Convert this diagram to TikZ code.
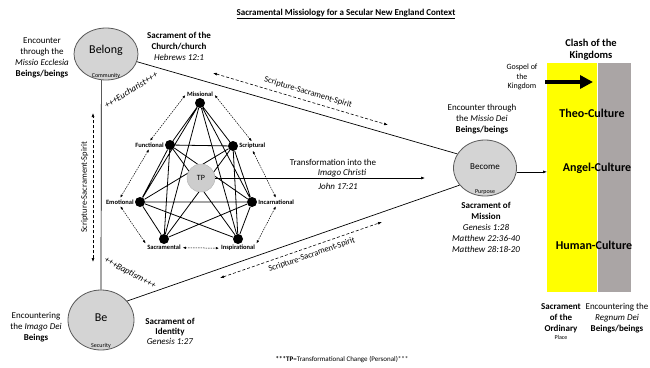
\documentclass[tikz,border=0pt]{standalone}
\usepackage{fontspec}
\setmainfont{Carlito}
\usetikzlibrary{positioning}
\usetikzlibrary{shapes.geometric}
\usetikzlibrary{arrows.meta}

\definecolor{circfill}{RGB}{212,212,212}
\definecolor{circline}{RGB}{90,90,90}
\definecolor{tpgray}{RGB}{205,205,205}
\definecolor{kingyellow}{RGB}{255,255,0}
\definecolor{kinggray}{RGB}{170,165,165}

\tikzset{
  sphere/.style={ellipse,draw=circline,fill=circfill,line width=0.8pt,inner sep=0pt},
  blurb/.style={align=center,inner sep=1pt,font=\fontsize{9}{11}\selectfont},
  subword/.style={inner sep=1pt,font=\fontsize{6}{7}\selectfont},
  vertex/.style={circle,fill=black,minimum size=10pt,inner sep=0pt},
  hlbl/.style={inner sep=1pt,font=\bfseries\fontsize{6.5}{7}\selectfont},
  ringarrow/.style={line width=0.5pt,dash pattern=on 1.5pt off 1pt,{Latex[length=3pt,width=2.5pt]}-{Latex[length=3pt,width=2.5pt]},shorten <=1pt,shorten >=1pt},
  sss/.style={line width=0.6pt,dash pattern=on 3pt off 2pt,{Latex[length=4pt,width=3pt]}-{Latex[length=4pt,width=3pt]}},
}

\begin{document}
\begin{tikzpicture}[x=1pt,y=-1pt]
\useasboundingbox (0,0) rectangle (650,367);

\node[font=\bfseries\fontsize{9}{11}\selectfont] (title) at (346,14) {\underline{Sacramental Missiology for a Secular New England Context}};

\node[sphere,minimum width=64pt,minimum height=52pt] (belong) at (106,54) {};
\node[sphere,minimum width=63pt,minimum height=56pt] (become) at (485,168) {};
\node[sphere,minimum width=66pt,minimum height=60pt] (be) at (101,320) {};

\node[font=\fontsize{12}{14}\selectfont] (belongword) at (106,50) {Belong};
\node[subword,above=1pt of belong.south] (community) {Community};
\node[font=\fontsize{9}{11}\selectfont] (becomeword) at (485,167) {Become};
\node[subword,above=1pt of become.south] (purpose) {Purpose};
\node[font=\fontsize{12}{14}\selectfont] (beword) at (101,318) {Be};
\node[subword,above=1pt of be.south] (security) {Security};

\draw[line width=0.7pt] (belong.-14) -- (become.153);
\draw[line width=0.7pt] (be.36) -- (become.214);
\draw[line width=0.7pt] (belong.260) -- (be.north);

\node[blurb] (belongleft) at (42,58) {Encounter\\through the\\\textit{Missio Ecclesia}\\\textbf{Beings/beings}};
\node[blurb] (belongright) at (179,46) {\textbf{Sacrament of the}\\\textbf{Church/church}\\\textit{Hebrews 12:1}};
\node[blurb] (beleft) at (36,327) {Encountering\\the \textit{Imago Dei}\\\textbf{Beings}};
\node[blurb,font=\fontsize{9}{10}\selectfont] (beright) at (170,331) {\textbf{Sacrament of}\\\textbf{Identity}\\\textit{Genesis 1:27}};
\node[blurb] (becometop) at (482,119) {Encounter through\\the \textit{Missio Dei}\\\textbf{Beings/beings}};
\node[blurb] (becomebottom) at (486,227) {\textbf{Sacrament of}\\\textbf{Mission}\\\textit{Genesis 1:28}\\\textit{Matthew 22:36-40}\\\textit{Matthew 28:18-20}};

\node[blurb,rotate=32,font=\itshape\fontsize{9}{11}\selectfont] (eucharist) at (131,90) {+++Eucharist+++};
\node[blurb,rotate=-28,font=\itshape\fontsize{9}{11}\selectfont] (baptism) at (130,273) {+++Baptism+++};

\coordinate (sstopA) at (213,73);
\coordinate (sstopB) at (388,125);
\draw[sss] (sstopA) -- node[sloped,above=1pt,pos=0.53,font=\fontsize{8.5}{10}\selectfont] (sstoplbl) {Scripture-Sacrament-Spirit} (sstopB);
\coordinate (ssbotA) at (220,278);
\coordinate (ssbotB) at (382,222);
\draw[sss] (ssbotA) -- node[sloped,below=1pt,pos=0.55,font=\fontsize{8.5}{10}\selectfont] (ssbotlbl) {Scripture-Sacrament-Spirit} (ssbotB);
\coordinate (ssleftA) at (93,262);
\coordinate (ssleftB) at (93,113);
\draw[sss] (ssleftA) -- node[sloped,above=1pt,font=\fontsize{8.5}{10}\selectfont] (sslftlbl) {Scripture-Sacrament-Spirit} (ssleftB);

\node[vertex] (mis) at (200,103) {};
\node[vertex] (fun) at (170,145) {};
\node[vertex] (scr) at (233,146) {};
\node[vertex] (emo) at (140,202) {};
\node[vertex] (inc) at (252,202) {};
\node[vertex] (sac) at (164,239) {};
\node[vertex] (ins) at (238,239) {};

\node[hlbl,above=0pt of mis] (mislbl) {Missional};
\node[hlbl,left=0pt of fun] (funlbl) {Functional};
\node[hlbl,right=0pt of scr] (scrlbl) {Scriptural};
\node[hlbl,left=0pt of emo] (emolbl) {Emotional};
\node[hlbl,right=0pt of inc] (inclbl) {Incarnational};
\node[hlbl,below=0pt of sac] (saclbl) {Sacramental};
\node[hlbl,below=0pt of ins] (inslbl) {Inspirational};

\draw[line width=0.8pt] (mis) -- (fun) (mis) -- (scr) (mis) -- (emo) (mis) -- (inc) (mis) -- (sac) (mis) -- (ins)
  (fun) -- (scr) (fun) -- (emo) (fun) -- (inc) (fun) -- (sac) (fun) -- (ins)
  (scr) -- (emo) (scr) -- (inc) (scr) -- (sac) (scr) -- (ins)
  (emo) -- (inc) (emo) -- (sac) (emo) -- (ins)
  (inc) -- (sac) (inc) -- (ins);

\draw[ringarrow] (mislbl.west) -- (funlbl.north);
\draw[ringarrow] (mislbl.east) -- (scrlbl.north);
\draw[ringarrow] (funlbl.south) -- (emolbl.north);
\draw[ringarrow] (scrlbl.south) -- (inclbl.north);
\draw[ringarrow] (emolbl.south) -- (saclbl.north west);
\draw[ringarrow] (inclbl.south) -- (inslbl.north east);
\draw[ringarrow] (saclbl.east) -- (inslbl.west);

\node[circle,fill=tpgray,draw=tpgray!85!black,line width=0.4pt,minimum size=28pt,inner sep=0pt,font=\fontsize{8}{9}\selectfont] (tp) at (201,178) {TP};

\coordinate (transend) at (425,178);
\draw[line width=0.6pt,-{Latex[length=4pt,width=3pt]}] (tp.east) -- (transend);
\node[blurb] (transl) at (333,162) {Transformation into the};
\node[blurb] (imago) at (342,173) {\textit{Imago Christi}};
\node[blurb] (john) at (338,186) {\textit{John 17:21}};

\node[fill=kingyellow,minimum width=50pt,minimum height=229pt,inner sep=0pt,anchor=north west] (yellowbar) at (547,63) {};
\node[fill=kinggray,minimum width=33pt,minimum height=229pt,inner sep=0pt,anchor=north west] (graybar) at (yellowbar.north east) {};

\draw[line width=0.6pt,-{Latex[length=4pt,width=3pt]}] (become.-7) -- (become.-7 -| yellowbar.west);

\node[font=\bfseries\fontsize{12}{14}\selectfont] (theo) at (592,113) {Theo-Culture};
\node[font=\bfseries\fontsize{12}{14}\selectfont] (angel) at (597,168) {Angel-Culture};
\node[font=\bfseries\fontsize{12}{14}\selectfont] (human) at (594,245) {Human-Culture};

\node[blurb,font=\bfseries\fontsize{10.5}{12}\selectfont] (clash) at (591,50) {Clash of the\\Kingdoms};
\node[blurb,font=\fontsize{8}{9.5}\selectfont] (gospel) at (522,77) {Gospel of\\the\\Kingdom};
\coordinate (gospelA) at (545,82);
\coordinate (gospelB) at (593,82);
\draw[line width=4pt,-{Triangle[length=13pt,width=13pt]}] (gospelA) -- (gospelB);

\node[blurb] (ordinary) at (561,318) {\textbf{Sacrament}\\\textbf{of the}\\\textbf{Ordinary}};
\node[subword,below=0pt of ordinary] (place) {Place};
\node[blurb] (regnum) at (617,318) {Encountering the\\\textit{Regnum Dei}\\\textbf{Beings/beings}};

\node[font=\fontsize{7}{8}\selectfont] (footnote) at (342,360) {\textbf{***TP}=Transformational Change (Personal)***};
\end{tikzpicture}
\end{document}
